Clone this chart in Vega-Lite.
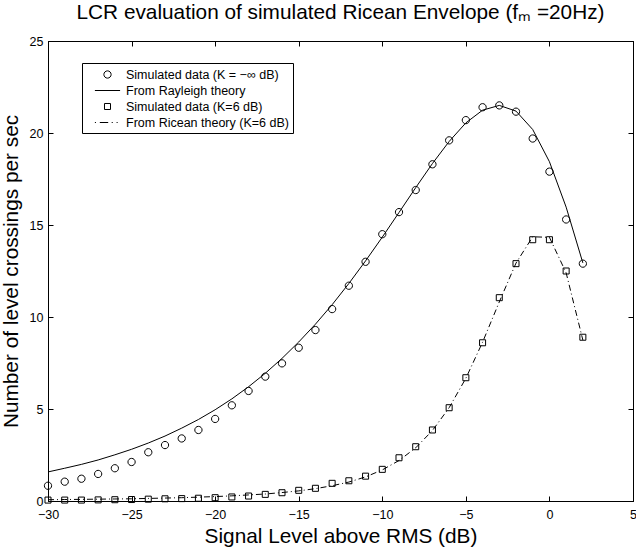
{
  "$schema": "https://vega.github.io/schema/vega-lite/v6.json",
  "width": 585,
  "height": 460,
  "autosize": {"type": "none"},
  "padding": {"left": 48, "top": 41, "right": 3, "bottom": 47},
  "background": "white",
  "config": {
    "font": "Liberation Sans",
    "view": {"stroke": "black", "strokeWidth": 1},
    "axis": {"grid": false, "domainColor": "black", "tickColor": "black", "labelColor": "black", "titleColor": "black", "labelFont": "Liberation Sans", "titleFont": "Liberation Sans", "titleFontWeight": "normal", "labelFontSize": 12.5, "titleFontSize": 20.8, "tickSize": -5, "domainWidth": 1, "tickWidth": 1, "labelFlush": false}
  },
  "title": {"text": "LCR evaluation of simulated Ricean Envelope (fₘ =20Hz)", "fontSize": 20.8, "fontWeight": "normal", "font": "Liberation Sans", "color": "black", "baseline": "alphabetic", "offset": 16, "dy": 21, "anchor": "middle"},
  "datasets": {
    "ray": [
      {"x": -30, "y": 1.58}, {"x": -29, "y": 1.78}, {"x": -28, "y": 1.99}, {"x": -27, "y": 2.23}, {"x": -26, "y": 2.51}, {"x": -25, "y": 2.81}, {"x": -24, "y": 3.15}, {"x": -23, "y": 3.53}, {"x": -22, "y": 3.96}, {"x": -21, "y": 4.43}, {"x": -20, "y": 4.96}, {"x": -19, "y": 5.55}, {"x": -18, "y": 6.21}, {"x": -17, "y": 6.94}, {"x": -16, "y": 7.75}, {"x": -15, "y": 8.64}, {"x": -14, "y": 9.61}, {"x": -13, "y": 10.67}, {"x": -12, "y": 11.82}, {"x": -11, "y": 13.05}, {"x": -10, "y": 14.34}, {"x": -9, "y": 15.68}, {"x": -8, "y": 17.03}, {"x": -7, "y": 18.34}, {"x": -6, "y": 19.54}, {"x": -5, "y": 20.55}, {"x": -4, "y": 21.24}, {"x": -3, "y": 21.5}, {"x": -2, "y": 21.19}, {"x": -1, "y": 20.19}, {"x": 0, "y": 18.44}, {"x": 1, "y": 15.97}, {"x": 2, "y": 12.94}
    ],
    "rice": [
      {"x": -30, "y": 0.07}, {"x": -29, "y": 0.08}, {"x": -28, "y": 0.09}, {"x": -27, "y": 0.1}, {"x": -26, "y": 0.11}, {"x": -25, "y": 0.12}, {"x": -24, "y": 0.14}, {"x": -23, "y": 0.16}, {"x": -22, "y": 0.18}, {"x": -21, "y": 0.21}, {"x": -20, "y": 0.24}, {"x": -19, "y": 0.28}, {"x": -18, "y": 0.33}, {"x": -17, "y": 0.38}, {"x": -16, "y": 0.46}, {"x": -15, "y": 0.55}, {"x": -14, "y": 0.67}, {"x": -13, "y": 0.83}, {"x": -12, "y": 1.03}, {"x": -11, "y": 1.31}, {"x": -10, "y": 1.69}, {"x": -9, "y": 2.2}, {"x": -8, "y": 2.89}, {"x": -7, "y": 3.83}, {"x": -6, "y": 5.07}, {"x": -5, "y": 6.67}, {"x": -4, "y": 8.63}, {"x": -3, "y": 10.82}, {"x": -2, "y": 12.93}, {"x": -1, "y": 14.36}, {"x": 0, "y": 14.33}, {"x": 1, "y": 12.4}, {"x": 2, "y": 8.75}
    ],
    "sim": [
      {"s": "Simulated data (K = −∞ dB)", "x": -30, "y": 0.83}, {"s": "Simulated data (K = −∞ dB)", "x": -29, "y": 1.05}, {"s": "Simulated data (K = −∞ dB)", "x": -28, "y": 1.21}, {"s": "Simulated data (K = −∞ dB)", "x": -27, "y": 1.47}, {"s": "Simulated data (K = −∞ dB)", "x": -26, "y": 1.78}, {"s": "Simulated data (K = −∞ dB)", "x": -25, "y": 2.12}, {"s": "Simulated data (K = −∞ dB)", "x": -24, "y": 2.65}, {"s": "Simulated data (K = −∞ dB)", "x": -23, "y": 3.04}, {"s": "Simulated data (K = −∞ dB)", "x": -22, "y": 3.4}, {"s": "Simulated data (K = −∞ dB)", "x": -21, "y": 3.86}, {"s": "Simulated data (K = −∞ dB)", "x": -20, "y": 4.46}, {"s": "Simulated data (K = −∞ dB)", "x": -19, "y": 5.2}, {"s": "Simulated data (K = −∞ dB)", "x": -18, "y": 5.98}, {"s": "Simulated data (K = −∞ dB)", "x": -17, "y": 6.76}, {"s": "Simulated data (K = −∞ dB)", "x": -16, "y": 7.48}, {"s": "Simulated data (K = −∞ dB)", "x": -15, "y": 8.33}, {"s": "Simulated data (K = −∞ dB)", "x": -14, "y": 9.29}, {"s": "Simulated data (K = −∞ dB)", "x": -13, "y": 10.43}, {"s": "Simulated data (K = −∞ dB)", "x": -12, "y": 11.7}, {"s": "Simulated data (K = −∞ dB)", "x": -11, "y": 13.0}, {"s": "Simulated data (K = −∞ dB)", "x": -10, "y": 14.5}, {"s": "Simulated data (K = −∞ dB)", "x": -9, "y": 15.7}, {"s": "Simulated data (K = −∞ dB)", "x": -8, "y": 16.9}, {"s": "Simulated data (K = −∞ dB)", "x": -7, "y": 18.3}, {"s": "Simulated data (K = −∞ dB)", "x": -6, "y": 19.6}, {"s": "Simulated data (K = −∞ dB)", "x": -5, "y": 20.7}, {"s": "Simulated data (K = −∞ dB)", "x": -4, "y": 21.4}, {"s": "Simulated data (K = −∞ dB)", "x": -3, "y": 21.5}, {"s": "Simulated data (K = −∞ dB)", "x": -2, "y": 21.16}, {"s": "Simulated data (K = −∞ dB)", "x": -1, "y": 19.7}, {"s": "Simulated data (K = −∞ dB)", "x": 0, "y": 17.9}, {"s": "Simulated data (K = −∞ dB)", "x": 1, "y": 15.3}, {"s": "Simulated data (K = −∞ dB)", "x": 2, "y": 12.9},
      {"s": "Simulated data (K=6 dB)", "x": -30, "y": 0.05}, {"s": "Simulated data (K=6 dB)", "x": -29, "y": 0.05}, {"s": "Simulated data (K=6 dB)", "x": -28, "y": 0.05}, {"s": "Simulated data (K=6 dB)", "x": -27, "y": 0.06}, {"s": "Simulated data (K=6 dB)", "x": -26, "y": 0.07}, {"s": "Simulated data (K=6 dB)", "x": -25, "y": 0.08}, {"s": "Simulated data (K=6 dB)", "x": -24, "y": 0.1}, {"s": "Simulated data (K=6 dB)", "x": -23, "y": 0.12}, {"s": "Simulated data (K=6 dB)", "x": -22, "y": 0.13}, {"s": "Simulated data (K=6 dB)", "x": -21, "y": 0.15}, {"s": "Simulated data (K=6 dB)", "x": -20, "y": 0.18}, {"s": "Simulated data (K=6 dB)", "x": -19, "y": 0.22}, {"s": "Simulated data (K=6 dB)", "x": -18, "y": 0.27}, {"s": "Simulated data (K=6 dB)", "x": -17, "y": 0.36}, {"s": "Simulated data (K=6 dB)", "x": -16, "y": 0.45}, {"s": "Simulated data (K=6 dB)", "x": -15, "y": 0.58}, {"s": "Simulated data (K=6 dB)", "x": -14, "y": 0.69}, {"s": "Simulated data (K=6 dB)", "x": -13, "y": 0.96}, {"s": "Simulated data (K=6 dB)", "x": -12, "y": 1.1}, {"s": "Simulated data (K=6 dB)", "x": -11, "y": 1.35}, {"s": "Simulated data (K=6 dB)", "x": -10, "y": 1.72}, {"s": "Simulated data (K=6 dB)", "x": -9, "y": 2.35}, {"s": "Simulated data (K=6 dB)", "x": -8, "y": 2.95}, {"s": "Simulated data (K=6 dB)", "x": -7, "y": 3.86}, {"s": "Simulated data (K=6 dB)", "x": -6, "y": 5.07}, {"s": "Simulated data (K=6 dB)", "x": -5, "y": 6.7}, {"s": "Simulated data (K=6 dB)", "x": -4, "y": 8.6}, {"s": "Simulated data (K=6 dB)", "x": -3, "y": 11.05}, {"s": "Simulated data (K=6 dB)", "x": -2, "y": 12.9}, {"s": "Simulated data (K=6 dB)", "x": -1, "y": 14.2}, {"s": "Simulated data (K=6 dB)", "x": 0, "y": 14.2}, {"s": "Simulated data (K=6 dB)", "x": 1, "y": 12.5}, {"s": "Simulated data (K=6 dB)", "x": 2, "y": 8.9}
    ]
  },
  "layer": [
    {
      "data": {"name": "ray"},
      "mark": {"type": "line", "color": "black", "strokeWidth": 1},
      "encoding": {
        "x": {"field": "x", "type": "quantitative", "scale": {"domain": [-30, 5], "nice": false, "zero": false}, "axis": {"orient": "bottom", "values": [-30, -25, -20, -15, -10, -5, 0, 5], "title": "Signal Level above RMS (dB)", "labelPadding": 12, "titlePadding": 6}},
        "y": {"field": "y", "type": "quantitative", "scale": {"domain": [0, 25], "nice": false}, "axis": {"orient": "left", "values": [0, 5, 10, 15, 20, 25], "title": "Number of level crossings per sec", "labelPadding": 10, "titlePadding": 8}}
      }
    },
    {
      "data": {"name": "rice"},
      "mark": {"type": "line", "color": "black", "strokeWidth": 1, "strokeDash": [6, 3, 1, 3]},
      "encoding": {
        "x": {"field": "x", "type": "quantitative", "axis": {"orient": "top", "values": [-30, -25, -20, -15, -10, -5, 0, 5], "labels": false, "title": null, "minExtent": 0, "maxExtent": 0}},
        "y": {"field": "y", "type": "quantitative", "axis": {"orient": "right", "values": [0, 5, 10, 15, 20, 25], "labels": false, "title": null, "minExtent": 0, "maxExtent": 0}}
      }
    },
    {
      "data": {"name": "sim"},
      "mark": {"type": "point", "filled": false, "stroke": "black", "strokeWidth": 1, "size": 196, "opacity": 1},
      "encoding": {
        "x": {"field": "x", "type": "quantitative", "axis": null},
        "y": {"field": "y", "type": "quantitative", "axis": null},
        "shape": {
          "field": "s", "type": "nominal",
          "scale": {
            "domain": ["Simulated data (K = −∞ dB)", "From Rayleigh theory", "Simulated data (K=6 dB)", "From Ricean theory (K=6 dB)"],
            "range": ["M0.52,0A0.52,0.52,0,1,1,-0.52,0A0.52,0.52,0,1,1,0.52,0Z", "M-1.8,0H1.8", "M-0.43,-0.43H0.43V0.43H-0.43Z", "M-1.8,0H-1.65M-1.1,0H0.1M0.6,0H0.75M1.3,0H1.45"]
          },
          "legend": {
            "title": null, "orient": "none", "legendX": 34, "legendY": 22,
            "strokeColor": "black", "fillColor": "white", "padding": 4, "cornerRadius": 0,
            "symbolSize": 196, "symbolStrokeColor": "black", "symbolFillColor": "transparent", "symbolStrokeWidth": 1,
            "symbolOffset": 14, "labelOffset": 11, "labelFontSize": 12.5, "labelFont": "Liberation Sans", "labelColor": "black", "labelLimit": 400, "rowPadding": 2
          }
        }
      }
    }
  ],
  "resolve": {"axis": {"x": "independent", "y": "independent"}}
}
